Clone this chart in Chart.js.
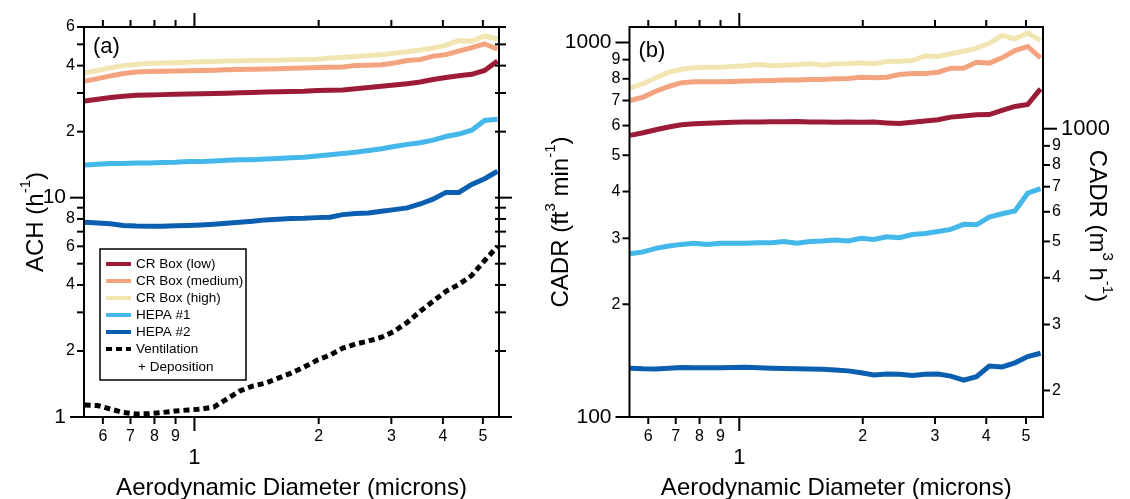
<!DOCTYPE html>
<html>
<head>
<meta charset="utf-8">
<script src="https://cdn.jsdelivr.net/npm/chart.js@4.4.1/dist/chart.umd.min.js"></script>
<style>
  html, body { margin: 0; padding: 0; background: #fff; }
  #wrap { position: relative; width: 1130px; height: 499px; overflow: hidden; background: #fff; }
  canvas { position: absolute; top: 0; }
  #achChart { left: 0; }
  #cadrChart { left: 525px; }
</style>
</head>
<body>
<div id="wrap">
  <canvas id="achChart" width="565" height="499"></canvas>
  <canvas id="cadrChart" width="605" height="499"></canvas>
</div>
<script>
// APS size bins (microns)
const diameters = [0.542, 0.583, 0.626, 0.673, 0.723, 0.777, 0.835, 0.898, 0.965, 1.037, 1.114, 1.197, 1.286, 1.382, 1.486, 1.596, 1.715, 1.843, 1.981, 2.129, 2.288, 2.458, 2.642, 2.839, 3.051, 3.278, 3.523, 3.786, 4.068, 4.371, 4.698, 5.048, 5.425];

// panel (a): ACH (h-1)
const achLow = [27.6, 28.1, 28.6, 29.0, 29.3, 29.4, 29.5, 29.6, 29.7, 29.8, 29.85, 29.95, 30.1, 30.2, 30.3, 30.4, 30.5, 30.6, 30.8, 30.9, 31.0, 31.4, 31.8, 32.2, 32.6, 33.1, 33.7, 34.6, 35.3, 36.0, 36.5, 38.0, 42.0];
const achMedium = [34.0, 34.9, 35.9, 36.8, 37.4, 37.6, 37.7, 37.8, 37.9, 38.0, 38.1, 38.3, 38.4, 38.5, 38.6, 38.7, 38.9, 39.0, 39.2, 39.3, 39.4, 40.1, 40.2, 40.4, 41.1, 42.2, 42.6, 44.2, 44.9, 46.6, 48.3, 50.3, 47.5];
const achHigh = [37.1, 38.0, 39.1, 40.0, 40.5, 41.0, 41.1, 41.2, 41.4, 41.7, 41.8, 42.0, 42.1, 42.2, 42.3, 42.3, 42.5, 42.7, 42.8, 43.3, 43.6, 44.0, 44.5, 44.8, 45.5, 46.3, 47.1, 48.1, 49.6, 52.0, 51.7, 54.6, 52.9];
const achHepa1 = [14.1, 14.2, 14.3, 14.3, 14.4, 14.4, 14.45, 14.5, 14.6, 14.6, 14.7, 14.8, 14.9, 14.9, 15.0, 15.1, 15.2, 15.3, 15.5, 15.7, 15.9, 16.1, 16.4, 16.7, 17.1, 17.5, 17.8, 18.3, 19.0, 19.5, 20.3, 22.5, 22.8];
const achHepa2 = [7.72, 7.66, 7.60, 7.46, 7.42, 7.41, 7.41, 7.44, 7.46, 7.50, 7.56, 7.64, 7.72, 7.80, 7.92, 7.98, 8.03, 8.05, 8.11, 8.14, 8.37, 8.46, 8.52, 8.68, 8.82, 8.98, 9.36, 9.85, 10.57, 10.57, 11.5, 12.2, 13.2];
const achVentDep = [1.134, 1.128, 1.087, 1.048, 1.032, 1.035, 1.048, 1.065, 1.076, 1.087, 1.11, 1.207, 1.313, 1.383, 1.427, 1.504, 1.585, 1.687, 1.815, 1.914, 2.06, 2.15, 2.22, 2.31, 2.46, 2.70, 3.03, 3.37, 3.74, 4.02, 4.42, 5.17, 5.99];

// panel (b): CADR (ft3 min-1)
const cadrLow = [565, 574, 585, 595, 603, 607, 609, 611, 612, 613, 613, 614, 614, 615, 613, 613, 612, 613, 612, 613, 610, 608, 612, 617, 622, 632, 636, 641, 642, 659, 675, 683, 752];
const cadrMedium = [700, 715, 741, 763, 781, 786, 786, 786, 787, 789, 790, 792, 794, 794, 797, 797, 800, 802, 808, 805, 808, 821, 827, 827, 833, 854, 854, 886, 881, 910, 952, 976, 910];
const cadrHigh = [757, 776, 805, 833, 848, 856, 859, 859, 863, 867, 874, 867, 870, 872, 879, 870, 877, 879, 883, 877, 890, 891, 895, 921, 918, 933, 948, 966, 995, 1044, 1023, 1061, 1012];
const cadrHepa1 = [273, 276, 282, 286, 289, 291, 289, 291, 291, 291, 292, 292, 294, 291, 294, 295, 297, 295, 300, 298, 303, 301, 307, 309, 313, 317, 327, 326, 342, 349, 355, 396, 407];
const cadrHepa2 = [134.9, 134.5, 134.4, 135.0, 135.6, 135.4, 135.3, 135.3, 135.6, 135.8, 135.4, 135.0, 134.7, 134.6, 134.3, 134.2, 133.6, 132.8, 131.2, 129.4, 130.2, 130.0, 129.0, 130.0, 130.2, 128.6, 125.5, 128.1, 136.8, 136.0, 139.5, 145.0, 148.0];

const seriesNames = ['CR Box (low)', 'CR Box (medium)', 'CR Box (high)', 'HEPA #1', 'HEPA #2', 'Ventilation\n+ Deposition'];
const seriesColors = ['#9c1c38', '#f3a47f', '#f1e6b2', '#44b8ea', '#0b5fb1', '#000000'];

// tick labels
const xMinorTicks = [0.6, 0.7, 0.8, 0.9, 2, 3, 4, 5];
const xMinorLabels = ['6', '7', '8', '9', '2', '3', '4', '5'];
const xMajorTicks = [1];
const xMajorLabels = ['1'];
const achMajorTicks = [1, 10];
const achMajorLabels = ['1', '10'];
const achMinorTicks = [2, 3, 4, 5, 6, 7, 8, 9, 20, 30, 40, 50, 60];
const achMinorLabels = ['2', '', '4', '', '6', '', '8', '', '2', '', '4', '', '6'];
const cadrMajorTicks = [100, 1000];
const cadrMajorLabels = ['100', '1000'];
const cadrMinorTicks = [200, 300, 400, 500, 600, 700, 800, 900];
const cadrMinorLabels = ['2', '3', '4', '5', '6', '7', '8', '9'];
const m3hMajorTicks = [1000];
const m3hMajorLabels = ['1000'];
const m3hMinorTicks = [200, 300, 400, 500, 600, 700, 800, 900];
const m3hMinorLabels = ['2', '3', '4', '5', '6', '7', '8', '9'];
const CFM_TO_M3H = 1.699;

const FONT = '"Liberation Sans", Arial, Helvetica, sans-serif';

const toPoints = (vals) => diameters.map((d, i) => ({ x: d, y: vals[i] }));

const makeDatasets = (seriesList) => seriesList.map((vals, i) => ({
    label: seriesNames[i],
    data: toPoints(vals),
    borderColor: seriesColors[i],
    backgroundColor: seriesColors[i],
    borderWidth: 5,
    borderDash: i === 5 ? [6, 4] : [],
    pointRadius: 0,
    tension: 0,
    fill: false
}));

const drawText = (ctx, str, x, y, size, align) => {
    ctx.font = size + 'px ' + FONT;
    ctx.textAlign = align;
    ctx.textBaseline = 'middle';
    ctx.fillText(str, x, y);
};

// text with superscripts, rotated about its centre
const drawRich = (ctx, parts, cx, cy, angle) => {
    ctx.save();
    ctx.translate(cx, cy);
    ctx.rotate(angle);
    ctx.textAlign = 'left';
    ctx.textBaseline = 'middle';
    let total = 0;
    parts.forEach(p => {
        ctx.font = (p.sup ? 15 : 24) + 'px ' + FONT;
        p.w = ctx.measureText(p.t).width;
        total += p.w;
    });
    let x = -total / 2;
    parts.forEach(p => {
        ctx.font = (p.sup ? 15 : 24) + 'px ' + FONT;
        ctx.fillText(p.t, x, p.sup ? -10 : 0);
        x += p.w;
    });
    ctx.restore();
};

const drawLegend = (ctx, chart) => {
    ctx.lineWidth = 1.5;
    ctx.strokeStyle = '#000';
    ctx.strokeRect(100, 249, 146, 131);
    chart.data.datasets.forEach((ds, i) => {
        const y = 264 + i * 17;
        ctx.beginPath();
        ctx.strokeStyle = ds.borderColor;
        ctx.lineWidth = 4;
        ctx.setLineDash(ds.borderDash);
        ctx.moveTo(106, y);
        ctx.lineTo(131, y);
        ctx.stroke();
        ctx.setLineDash([]);
        ds.label.split('\n').forEach((t, j) => {
            drawText(ctx, t, j ? 138 : 136, y + j * 18, 13.5, 'left');
        });
    });
};

const axesPlugin = (cfg) => ({
    id: cfg.id,
    afterDraw(chart) {
        const { ctx, chartArea: a } = chart;
        const xs = chart.scales.x;
        const ys = chart.scales.y;
        const seg = (x1, y1, x2, y2) => {
            ctx.beginPath();
            ctx.moveTo(x1, y1);
            ctx.lineTo(x2, y2);
            ctx.stroke();
        };
        ctx.save();
        ctx.strokeStyle = '#000';
        ctx.fillStyle = '#000';
        ctx.lineWidth = 2;
        ctx.strokeRect(a.left, a.top, a.right - a.left, a.bottom - a.top);

        xMinorTicks.forEach((v, i) => {
            const px = xs.getPixelForValue(v);
            seg(px, a.bottom, px, a.bottom + 7);
            seg(px, a.top, px, a.top - 7);
            drawText(ctx, xMinorLabels[i], px, a.bottom + 20, 16, 'center');
        });
        xMajorTicks.forEach((v, i) => {
            const px = xs.getPixelForValue(v);
            seg(px, a.bottom, px, a.bottom + 14);
            seg(px, a.top, px, a.top - 14);
            drawText(ctx, xMajorLabels[i], px, a.bottom + 41, 22, 'center');
        });
        drawText(ctx, 'Aerodynamic Diameter (microns)', (a.left + a.right) / 2, 488, 24, 'center');

        cfg.yMinor.forEach((v, i) => {
            const py = ys.getPixelForValue(v);
            seg(a.left - 7, py, a.left, py);
            if (cfg.mirror) seg(a.right - 4, py, a.right + 7, py);
            if (cfg.yMinorLabels[i]) drawText(ctx, cfg.yMinorLabels[i], a.left - 9, py, 16, 'right');
        });
        cfg.yMajor.forEach((v, i) => {
            const py = ys.getPixelForValue(v);
            seg(a.left - 14, py, a.left, py);
            if (cfg.mirror) seg(a.right - 4, py, a.right + 13, py);
            drawText(ctx, cfg.yMajorLabels[i], a.left - 18, py, 21, 'right');
        });

        if (cfg.y2) {
            const s2 = chart.scales.y2;
            m3hMinorTicks.forEach((v, i) => {
                const py = s2.getPixelForValue(v);
                seg(a.right, py, a.right + 7, py);
                drawText(ctx, m3hMinorLabels[i], a.right + 9, py, 16, 'left');
            });
            m3hMajorTicks.forEach((v, i) => {
                const py = s2.getPixelForValue(v);
                seg(a.right, py, a.right + 14, py);
                drawText(ctx, m3hMajorLabels[i], a.right + 18, py, 22, 'left');
            });
            drawRich(ctx, cfg.y2Title, cfg.y2TitleX, (a.top + a.bottom) / 2 + 4, Math.PI / 2);
        }

        drawRich(ctx, cfg.yTitle, cfg.yTitleX, (a.top + a.bottom) / 2, -Math.PI / 2);
        drawText(ctx, cfg.panel, a.left + 9, cfg.panelY, 22, 'left');
        if (cfg.legend) drawLegend(ctx, chart);
        ctx.restore();
    }
});

const baseOptions = (padding, xMax, yMin, yMax) => ({
    responsive: false,
    animation: false,
    devicePixelRatio: 1,
    layout: { padding },
    plugins: { legend: { display: false }, tooltip: { enabled: false } },
    scales: {
        x: { type: 'logarithmic', min: 0.54, max: xMax, display: false },
        y: { type: 'logarithmic', min: yMin, max: yMax, display: false }
    }
});

document.addEventListener('DOMContentLoaded', () => {
    new Chart(document.getElementById('achChart'), {
        type: 'line',
        data: { datasets: makeDatasets([achLow, achMedium, achHigh, achHepa1, achHepa2, achVentDep]) },
        options: baseOptions({ left: 84, right: 66, top: 27, bottom: 82 }, 5.47, 1, 60),
        plugins: [axesPlugin({
            id: 'achAxes',
            yMajor: achMajorTicks, yMajorLabels: achMajorLabels,
            yMinor: achMinorTicks, yMinorLabels: achMinorLabels,
            mirror: true,
            yTitle: [{ t: 'ACH (h' }, { t: '-1', sup: true }, { t: ')' }],
            yTitleX: 36,
            panel: '(a)', panelY: 47,
            legend: true
        })]
    });

    const cadrOptions = baseOptions({ left: 104.5, right: 87, top: 27, bottom: 82 }, 5.5, 100, 1100);
    cadrOptions.scales.y2 = {
        type: 'logarithmic', position: 'right', display: false,
        min: 100 * CFM_TO_M3H, max: 1100 * CFM_TO_M3H
    };
    new Chart(document.getElementById('cadrChart'), {
        type: 'line',
        data: { datasets: makeDatasets([cadrLow, cadrMedium, cadrHigh, cadrHepa1, cadrHepa2]) },
        options: cadrOptions,
        plugins: [axesPlugin({
            id: 'cadrAxes',
            yMajor: cadrMajorTicks, yMajorLabels: cadrMajorLabels,
            yMinor: cadrMinorTicks, yMinorLabels: cadrMinorLabels,
            mirror: false,
            y2: true,
            yTitle: [{ t: 'CADR (ft' }, { t: '3', sup: true }, { t: ' min' }, { t: '-1', sup: true }, { t: ')' }],
            yTitleX: 36,
            y2Title: [{ t: 'CADR (m' }, { t: '3', sup: true }, { t: ' h' }, { t: '-1', sup: true }, { t: ')' }],
            y2TitleX: 572,
            panel: '(b)', panelY: 51,
            legend: false
        })]
    });
});
</script>
</body>
</html>
